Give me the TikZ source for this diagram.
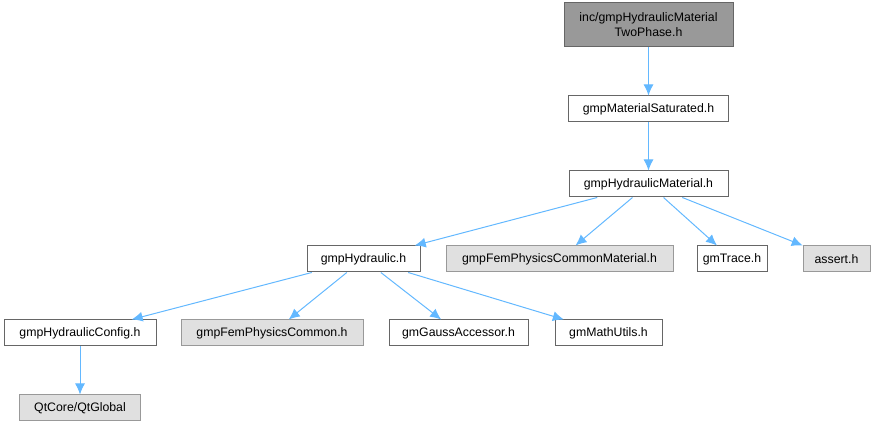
\documentclass[tikz,border=0pt]{standalone}
\usepackage{fontspec}
\setmainfont{Liberation Sans}
\usepackage{tikz}
\usetikzlibrary{arrows.meta}
\usetikzlibrary{positioning}
\definecolor{edgeblue}{HTML}{63B8FF}
\definecolor{boxgray}{HTML}{E0E0E0}
\definecolor{topgray}{HTML}{999999}
\definecolor{darkline}{HTML}{666666}
\begin{document}
\begin{tikzpicture}[x=1pt,y=-1pt,node distance=48pt,>={Latex[length=11pt,width=10pt]},
  file/.style={draw=darkline,fill=white,line width=1pt,minimum height=26pt,inner xsep=3pt,inner ysep=2pt,font=\fontsize{12.3}{15}\selectfont},
  sysfile/.style={file,draw=topgray,fill=boxgray},
  topfile/.style={file,fill=topgray,minimum height=44pt,align=center},
  dep/.style={->,color=edgeblue,line width=1pt}]
\path[use as bounding box] (0,0) rectangle (879,427);
\node[topfile,minimum width=169pt] (top) at (648.5,25) {inc/gmpHydraulicMaterial\\TwoPhase.h};
\node[file,minimum width=160pt,below =of top] (sat) {gmpMaterialSaturated.h};
\node[file,minimum width=159pt,below =of sat] (hm) {gmpHydraulicMaterial.h};
\node[file,minimum width=113pt] (hyd) at (363.5,259) {gmpHydraulic.h};
\node[sysfile,minimum width=227pt,right =25pt of hyd] (fpcm) {gmpFemPhysicsCommonMaterial.h};
\node[file,minimum width=70pt,right =23pt of fpcm] (trace) {gmTrace.h};
\node[sysfile,minimum width=67pt,right =35pt of trace] (assert) {assert.h};
\node[file,minimum width=152pt] (conf) at (80,333) {gmpHydraulicConfig.h};
\node[sysfile,minimum width=182pt,right =24pt of conf] (fpc) {gmpFemPhysicsCommon.h};
\node[file,minimum width=139pt,right =25pt of fpc] (gauss) {gmGaussAccessor.h};
\node[file,minimum width=107pt,right =26pt of gauss] (math) {gmMathUtils.h};
\node[sysfile,minimum width=121pt,below =of conf] (qt) {QtCore/QtGlobal};
\path[dep] (top) edge (sat);
\path[dep] (sat) edge (hm);
\path[dep] (hm) edge (hyd) edge (fpcm) edge (trace) edge (assert);
\path[dep] (hyd) edge (conf) edge (fpc) edge (gauss) edge (math);
\path[dep] (conf) edge (qt);
\end{tikzpicture}
\end{document}
